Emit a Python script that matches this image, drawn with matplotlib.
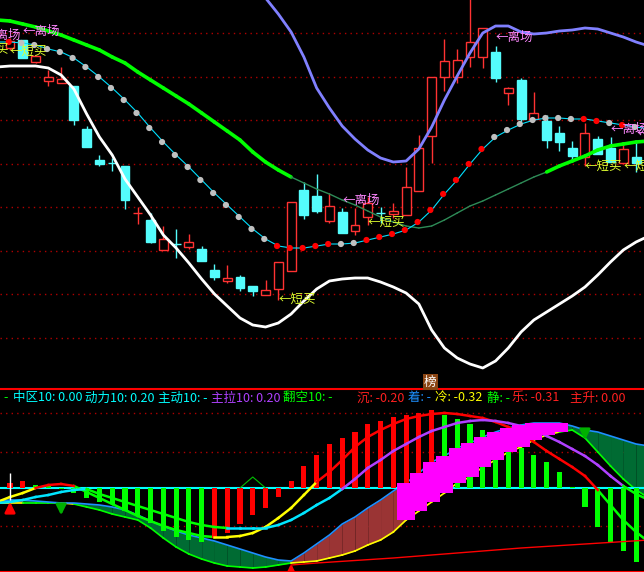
import numpy as np
import matplotlib.pyplot as plt
from matplotlib.patches import Rectangle

plt.rcParams['font.family'] = ['Noto Sans CJK SC', 'DejaVu Sans']

# ---------------- 主图数据 ----------------
# K线: 开 收 高 低
opens  = [34.2, 35.0, 32.8, 30.9, 30.7, 30.4, 26.1, 23.0, 22.75, 22.4,
          17.7, 17.0, 14.0, 14.65, 14.3, 14.1, 12.0, 10.9, 11.3, 10.4,
          9.5, 10.1, 11.9, 20.0, 19.4, 16.9, 17.8, 15.9, 17.3, 17.75,
          17.6, 17.5, 19.9, 25.4, 31.3, 31.3, 33.3, 33.3, 33.8, 29.7,
          31.0, 27.1, 26.9, 25.7, 24.2, 23.3, 25.1, 24.2, 22.7, 23.3]
closes = [34.9, 33.2, 33.4, 31.3, 31.1, 27.0, 24.3, 22.6, 22.7, 19.0,
          17.75, 14.8, 15.1, 14.6, 14.8, 12.9, 11.3, 11.2, 10.2, 9.9,
          10.0, 12.8, 18.8, 17.5, 17.9, 18.4, 15.7, 16.5, 18.7, 17.7,
          17.9, 20.3, 24.2, 31.3, 32.9, 33.0, 34.8, 36.2, 31.2, 30.2,
          27.1, 27.7, 25.0, 24.8, 23.4, 25.7, 23.6, 22.8, 24.1, 22.7]
highs  = [35.2, 35.0, 33.5, 32.0, 32.3, 30.4, 26.4, 23.5, 23.2, 22.4,
          18.3, 17.7, 16.4, 16.1, 15.6, 14.4, 12.6, 12.5, 11.5, 10.4,
          11.0, 12.8, 18.8, 20.8, 21.6, 19.7, 18.2, 18.2, 19.3, 18.3,
          18.7, 22.3, 25.5, 31.3, 35.1, 34.1, 39.5, 36.2, 34.4, 30.3,
          31.2, 29.8, 27.5, 26.4, 24.9, 26.7, 25.4, 25.3, 24.8, 24.8]
lows   = [34.0, 33.2, 32.7, 30.4, 30.7, 26.5, 24.3, 22.4, 21.9, 18.1,
          16.6, 14.7, 14.0, 13.2, 14.1, 12.9, 11.0, 10.7, 9.9, 9.4,
          9.5, 9.0, 11.9, 17.1, 17.7, 16.7, 15.7, 15.5, 16.5, 16.7,
          17.2, 17.5, 19.9, 22.7, 29.9, 30.7, 32.3, 32.2, 30.8, 28.5,
          26.8, 27.1, 24.2, 23.9, 22.8, 22.4, 23.6, 22.8, 22.7, 21.8]

# 均线/通道 (从 -1 到 50, 两端多一点画到边缘)
mid_green = [37.0, 36.9, 36.6, 36.3, 35.9, 35.5, 35.0, 34.5, 34.0, 33.3, 32.7,
             31.8, 31.0, 30.2, 29.4, 28.6, 27.7, 26.8, 25.9, 25.0, 23.8,
             22.8, 22.0, 21.3, 20.7, 20.1, 19.6, 19.0, 18.5, 17.9, 17.3,
             16.8, 16.4, 16.2, 16.4, 17.0, 17.7, 18.4, 18.9, 19.5, 20.1,
             20.7, 21.3, 21.8, 22.4, 22.9, 23.4, 24.0, 24.4, 24.6, 24.8, 24.9]
mid_line = [34.8, 34.8, 34.7, 34.5, 34.1, 33.8, 33.2, 32.3, 31.3, 30.2, 29.0,
            27.7, 26.2, 24.8, 23.5, 22.3, 21.0, 19.7, 18.5, 17.3, 16.1,
            15.1, 14.4, 14.2, 14.2, 14.4, 14.6, 14.6, 14.7, 15.0, 15.3,
            15.6, 16.0, 16.8, 18.0, 19.6, 21.0, 22.6, 24.1, 25.3, 26.0,
            26.6, 27.0, 27.2, 27.2, 27.1, 27.1, 26.9, 26.7, 26.5, 26.3, 26.1]
lower_band = [32.3, 32.4, 32.4, 32.4, 32.2, 31.5, 30.1, 27.6, 25.3, 23.5, 21.1,
              19.3, 17.5, 15.5, 14.2, 12.7, 11.1, 9.6, 8.4, 7.2, 6.5,
              6.3, 6.7, 7.6, 8.9, 10.1, 10.9, 11.1, 11.2, 11.2, 10.8,
              10.3, 9.7, 8.6, 6.0, 4.2, 3.2, 2.6, 2.2, 2.9, 4.2,
              5.8, 7.0, 7.8, 8.6, 9.4, 10.3, 11.5, 12.8, 14.0, 14.8, 15.4]
# 上轨只在右半部分可见 (从 19 到 50)
upper_start = 19
upper_band = [40.5, 39.2, 37.6, 35.8, 33.3, 30.2, 28.2, 26.4, 25.1, 24.0,
              23.2, 22.8, 22.9, 24.1, 26.3, 29.0, 31.4, 33.7, 35.7, 36.4,
              36.4, 35.8, 35.6, 35.7, 35.9, 36.0, 36.2, 36.1, 35.7, 35.3,
              34.8, 34.4]
red_dot = [0, 21, 22, 23, 24, 25, 28, 29, 30, 31, 32, 33, 34, 35, 36, 37, 45, 46, 48]

# 信号文字
leave_idx = [-2.1, 1, 26, 38, 47, 49]
leave_val = [35.5, 35.9, 19.0, 35.3, 26.1, 25.7]
buy_idx = [-3.0, 0, 21, 28, 45, 48]
buy_val = [34.1, 33.9, 9.1, 16.8, 22.4, 22.4]

# ---------------- 副图数据 ----------------
macd_bar = [0.05, 0.07, 0.03, 0.02, -0.01, -0.05, -0.10, -0.14, -0.16, -0.23,
            -0.28, -0.35, -0.43, -0.49, -0.52, -0.54, -0.50, -0.45, -0.36, -0.27,
            -0.20, -0.09, 0.07, 0.22, 0.33, 0.44, 0.50, 0.56, 0.64, 0.67,
            0.71, 0.73, 0.75, 0.78, 0.73, 0.69, 0.64, 0.58, 0.55, 0.50,
            0.40, 0.33, 0.26, 0.16, 0.01, -0.19, -0.39, -0.54, -0.63, -0.74]
fast = [-0.14, -0.09, -0.05, 0.00, 0.03, 0.04, 0.02, -0.04, -0.10, -0.16, -0.22,
        -0.28, -0.33, -0.38, -0.42, -0.45, -0.48, -0.49, -0.49, -0.48, -0.45,
        -0.39, -0.30, -0.20, -0.07, 0.06, 0.16, 0.28, 0.41, 0.51, 0.58,
        0.64, 0.69, 0.72, 0.74, 0.75, 0.74, 0.72, 0.70, 0.66, 0.61,
        0.54, 0.46, 0.37, 0.29, 0.21, 0.12, -0.02, -0.17, -0.32, -0.44, -0.54]
slow = [-0.15, -0.14, -0.12, -0.09, -0.07, -0.04, -0.02, -0.01, -0.06, -0.10, -0.14,
        -0.18, -0.22, -0.26, -0.30, -0.34, -0.37, -0.39, -0.40, -0.40, -0.40,
        -0.40, -0.37, -0.32, -0.25, -0.17, -0.10, -0.01, 0.09, 0.20, 0.28,
        0.37, 0.44, 0.51, 0.57, 0.61, 0.65, 0.67, 0.68, 0.67, 0.65,
        0.62, 0.58, 0.52, 0.46, 0.39, 0.32, 0.23, 0.12, 0.02, -0.06, -0.12]
cloud_top = [-0.13, -0.12, -0.12, -0.13, -0.14, -0.15, -0.15, -0.16, -0.17, -0.19, -0.22,
             -0.27, -0.33, -0.38, -0.43, -0.47, -0.50, -0.53, -0.57, -0.61, -0.65,
             -0.69, -0.72, -0.73, -0.65, -0.56, -0.47, -0.36, -0.29, -0.20, -0.12,
             -0.03, 0.05, 0.15, 0.26, 0.32, 0.40, 0.45, 0.51, 0.56, 0.60,
             0.63, 0.65, 0.65, 0.65, 0.62, 0.58, 0.56, 0.52, 0.48, 0.44, 0.42]
cloud_bot = [-0.15, -0.15, -0.15, -0.15, -0.15, -0.15, -0.16, -0.19, -0.22, -0.26, -0.29,
             -0.32, -0.40, -0.50, -0.59, -0.66, -0.71, -0.75, -0.78, -0.79, -0.80,
             -0.79, -0.77, -0.75, -0.74, -0.73, -0.70, -0.67, -0.63, -0.57, -0.52,
             -0.44, -0.32, -0.23, -0.14, -0.05, 0.05, 0.11, 0.21, 0.28, 0.36,
             0.41, 0.48, 0.53, 0.56, 0.58, 0.50, 0.36, 0.22, 0.09, -0.02, -0.10]
trend_idx = [22, 24, 30, 35, 40, 45, 50]
trend_val = [-0.77, -0.75, -0.70, -0.65, -0.60, -0.56, -0.52]
up_arrow_idx, up_arrow_val = [0, 22], [-0.11, -0.73]
down_arrow_idx, down_arrow_val = [4, 45], [-0.17, 0.58]

legend_items = [('-', '#00ff00', 3), ('中区10: 0.00', '#00ffff', 13),
                ('动力10: 0.20', '#00ffff', 85), ('主动10: -', '#00ffff', 158),
                ('主拉10: 0.20', '#b040ff', 211), ('翻空10: -', '#00ff00', 283),
                ('沉: -0.20', '#ff2020', 357), ('着: -', '#1e90ff', 408),
                ('冷: -0.32', '#ffff00', 435), ('静: -', '#00ff00', 487),
                ('乐: -0.31', '#ff2020', 512), ('主升: 0.00', '#ff2020', 570)]

n = len(opens)
k_idx = np.arange(n)
line_idx = np.arange(-1, n + 1)
W, H = 644, 572

fig = plt.figure(figsize=(W / 100, H / 100), dpi=100, facecolor='black')
ax1 = fig.add_axes([0, 183 / H, 1, 389 / H], facecolor='black')
ax2 = fig.add_axes([0, 0, 1, 183 / H], facecolor='black')
for ax in (ax1, ax2):
    ax.set_xlim(-0.783, 49.62)
    ax.set_xticks([])
    ax.set_yticks([])
    for s in ax.spines.values():
        s.set_visible(False)
ax1.set_ylim(0.1, 39.0)
ax2.set_ylim(-0.84, 0.99)

dot = (0, (1, 3))
for g in [35.7, 31.3, 27.0, 22.6, 18.3, 13.9, 9.6, 5.2]:
    ax1.axhline(g, color='#b00000', lw=1, ls=dot, zorder=0)

# K线
for i in range(n):
    o, c = opens[i], closes[i]
    up = c > o
    col = '#ff3232' if up else '#54fcfc'
    ax1.vlines(i, lows[i], highs[i], color=col, lw=1, zorder=2)
    ax1.add_patch(Rectangle((i - 0.35, min(o, c)), 0.7, abs(c - o),
                            facecolor='black' if up else col, edgecolor=col,
                            lw=1, zorder=3))

# 中轨 (绿色粗细两段)
for j in range(len(line_idx) - 1):
    strong = line_idx[j] < 22 or line_idx[j] >= 42
    ax1.plot(line_idx[j:j + 2], mid_green[j:j + 2],
             color='#00ff00' if strong else '#2e8b57',
             lw=2.6 if strong else 1.0, solid_capstyle='round', zorder=4)

ax1.plot(line_idx, lower_band, color='white', lw=2, zorder=4)
ax1.plot(np.arange(upper_start, upper_start + len(upper_band)), upper_band,
         color='#8080ff', lw=2, zorder=4)
ax1.plot(line_idx, mid_line, color='#00e0ff', lw=0.8, zorder=4)
dot_cols = ['#ff0000' if i in red_dot else '#c0c0c0' for i in k_idx]
ax1.scatter(k_idx - 0.1, mid_line[1:n + 1], c=dot_cols, s=20, zorder=5, linewidths=0)

for x, y in zip(leave_idx, leave_val):
    ax1.text(x, y, '←离场', color='#ff88ff', fontsize=9, va='center', ha='left', zorder=6)
for x, y in zip(buy_idx, buy_val):
    ax1.text(x, y, '←短买', color='#e0ff30', fontsize=9, va='center', ha='left', zorder=6)

# ---------------- 副图 ----------------
for g in [0.75, 0.36, -0.38]:
    ax2.axhline(g, color='#b00000', lw=1, ls=dot, zorder=0)
ax2.axhline(0, color='#00ffff', lw=1.5, zorder=2.5)

P = np.array(cloud_top)
Q = np.array(cloud_bot)
for j in range(len(line_idx) - 1):
    xs = line_idx[j:j + 2]
    rising = P[j + 1] >= P[j]
    if not rising:
        ax2.fill_between(xs, P[j:j + 2], Q[j:j + 2], color='#006b33', lw=0, zorder=1)
    elif P[j] < 0:
        ax2.fill_between(xs, P[j:j + 2], Q[j:j + 2], color='#9a3434', lw=0, zorder=1)
    ax2.plot(xs, Q[j:j + 2], color='#ffff00' if rising else '#00ff00', lw=1.2, zorder=1.5)
ax2.plot(line_idx, P, color='#1e90ff', lw=1.2, zorder=1.5)

hist = np.array(macd_bar)
prev = np.r_[hist[0] - 1, hist[:-1]]
ax2.bar(k_idx, hist, width=0.4, color=np.where(hist > prev, '#ff0000', '#00ff00'), zorder=3)

F = np.array(fast)
S = np.array(slow)
for j in range(len(line_idx) - 1):
    xs = line_idx[j:j + 2]
    fz = 4
    if F[j:j + 2].mean() >= 0:
        fc = '#ff0000'
    elif F[j + 1] >= F[j]:
        fc = '#ffff00'
    else:
        fc, fz = '#00ff00', 2.8   # 下跌段藏在柱子后面
    if S[j:j + 2].mean() >= 0:
        sc = '#b040ff'
    else:
        sc = '#00e5ff' if S[j + 1] >= S[j] else '#00ff00'
    ax2.plot(xs, F[j:j + 2], color=fc, lw=1.8, zorder=fz)
    ax2.plot(xs, S[j:j + 2], color=sc, lw=1.8, zorder=4)

# 洋红色台阶
kP, kQ, pP = P[1:n + 1], Q[1:n + 1], P[0:n]
mag = (kP >= 0) & (kP >= pP)
ax2.bar(k_idx[mag], (kP - kQ)[mag], bottom=kQ[mag], width=1.35, color='#ff00ff', zorder=6)

ax2.plot(trend_idx, trend_val, color='#ff0000', lw=1, zorder=5)
ax2.vlines(0, -0.12, 0.15, color='white', lw=1, zorder=5)
ax2.plot([18, 19, 20], [0, 0.11, 0], color='#00c000', lw=0.8, zorder=5)

for x, y in zip(up_arrow_idx, up_arrow_val):
    ax2.annotate('', xy=(x, y), xytext=(x, y - 0.14),
                 arrowprops=dict(arrowstyle='-|>', color='#ff0000', lw=2, mutation_scale=15),
                 zorder=8)
for x, y in zip(down_arrow_idx, down_arrow_val):
    ax2.annotate('', xy=(x, y - 0.13), xytext=(x, y),
                 arrowprops=dict(arrowstyle='-|>', color='#00b000', lw=2, mutation_scale=15),
                 zorder=8)

for s in ('top', 'bottom'):
    ax2.spines[s].set_visible(True)
    ax2.spines[s].set_color('#ff0000')
    ax2.spines[s].set_linewidth(1.5)

for txt, col, x in legend_items:
    fig.text(x / W, 1 - 398 / H, txt, color=col, fontsize=9, va='center', ha='left')
fig.text(430 / W, 1 - 382 / H, '榜', color='white', fontsize=9, ha='center', va='center',
         bbox=dict(boxstyle='square,pad=0.1', fc='#8b4513', ec='none'))

fig.savefig('out.png', dpi=100, facecolor='black')
